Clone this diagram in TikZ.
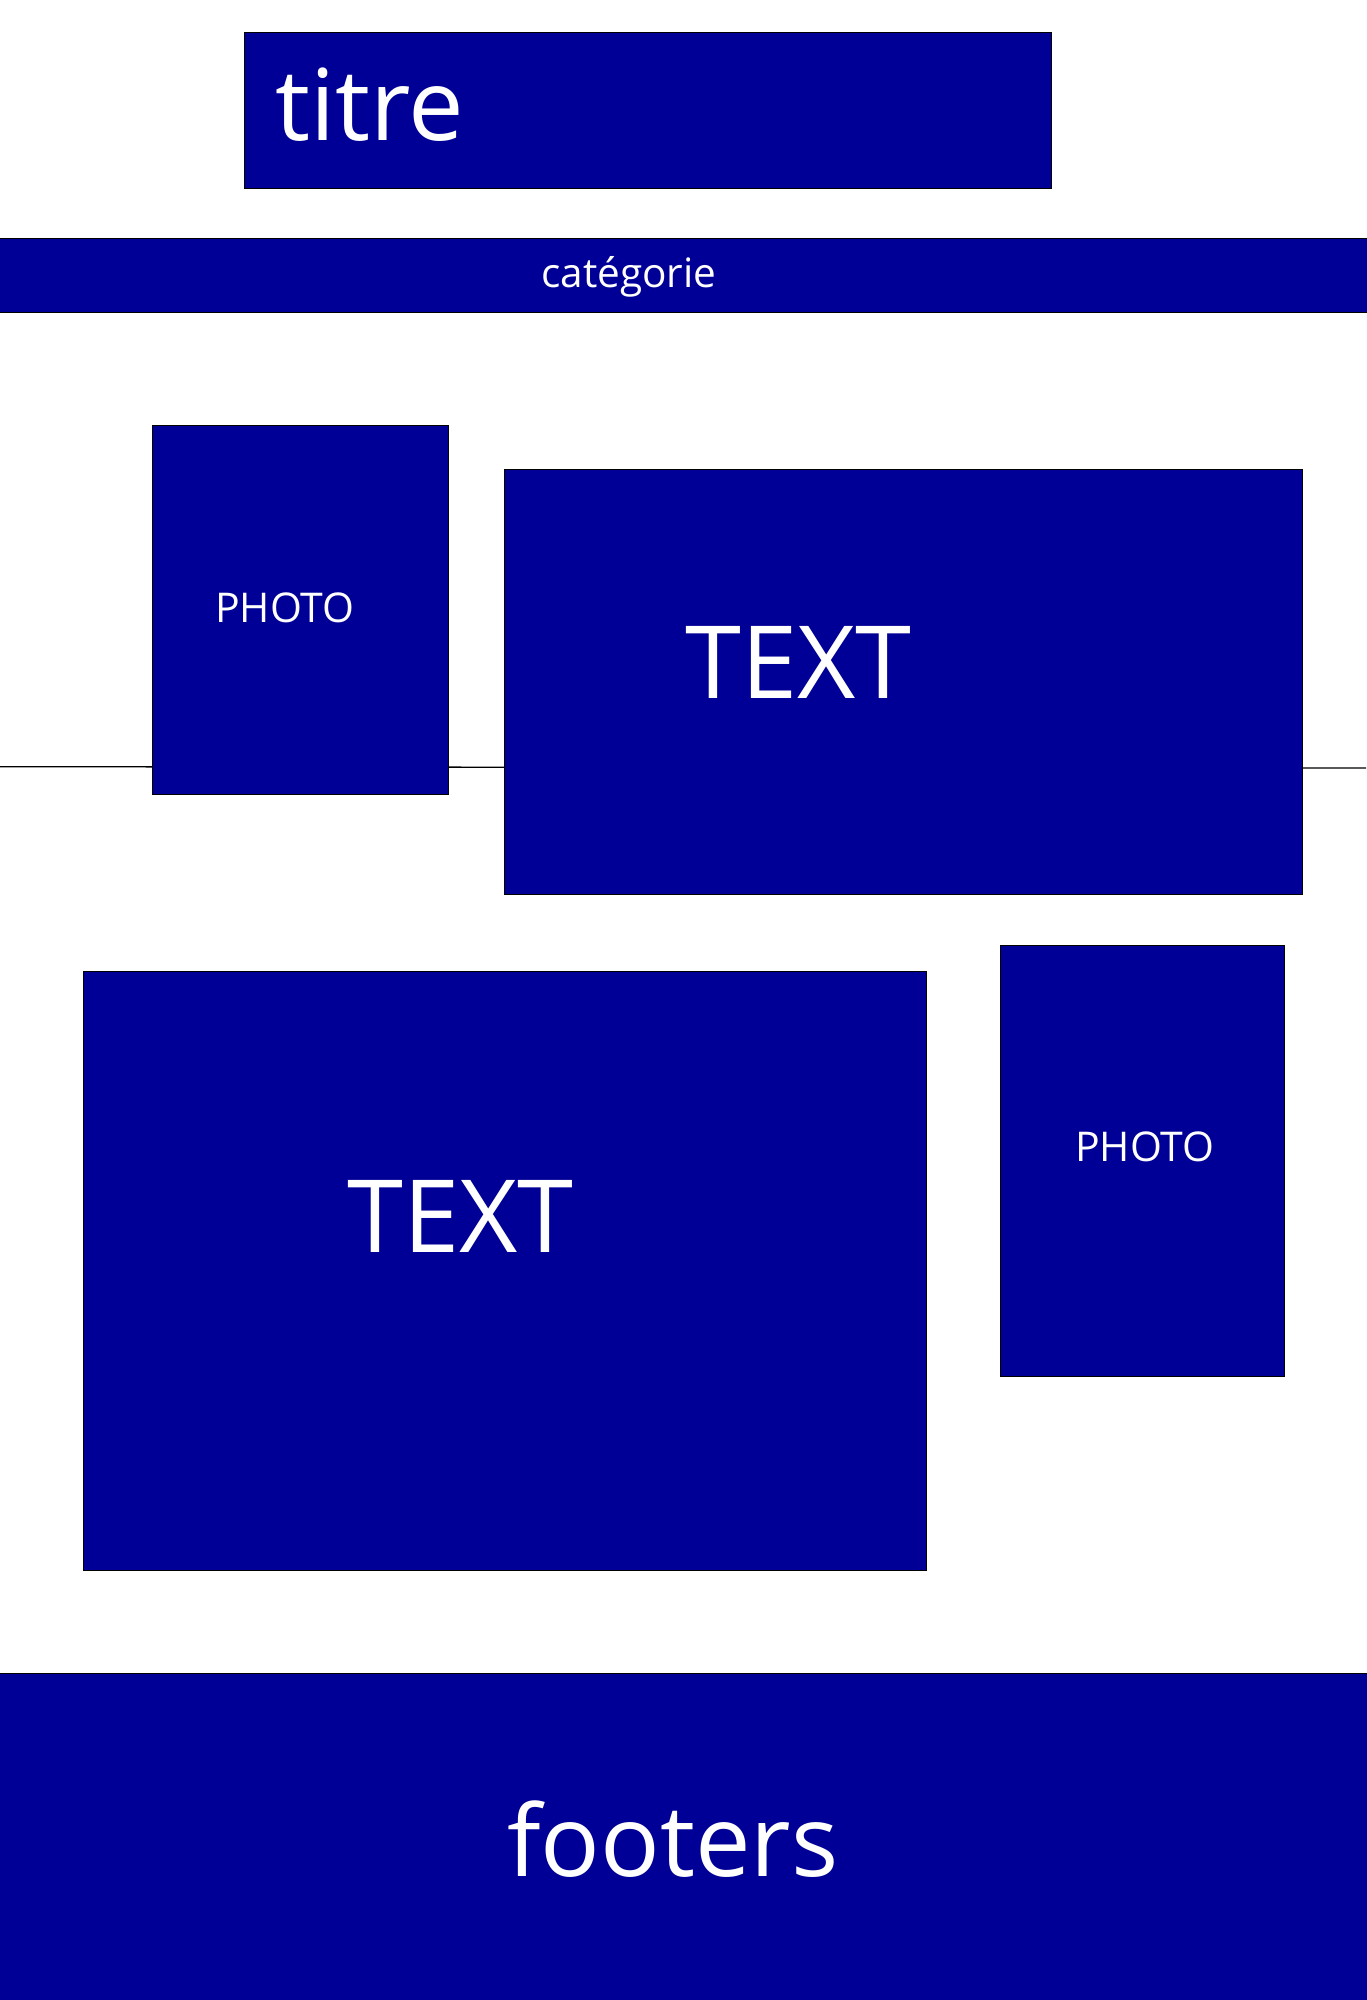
\documentclass[tikz,border=0pt]{standalone}
\usepackage{fontspec}
\setmainfont{Open Sans}
\definecolor{boxblue}{RGB}{0,0,150}
\begin{document}
\begin{tikzpicture}[x=1pt,y=-1pt,
  blockbox/.style={draw=black, line width=1pt, fill=boxblue, inner sep=0pt, anchor=north west},
  label/.style={text=white, inner sep=0pt, anchor=base west}]
\useasboundingbox[fill=white] (0,0) rectangle (1366,2000);
% horizontal line behind the boxes
\coordinate (lineL) at (0,766.7);
\coordinate (lineR) at (1366,768);
\draw[line width=1.3pt] (lineL) -- (lineR);
% boxes
\node[blockbox, minimum width=807pt, minimum height=155.5pt] (titre) at (244,32.3) {};
\node[blockbox, minimum width=1368pt, minimum height=73.4pt] (cat) at (-1,238.3) {};
\node[blockbox, minimum width=296pt, minimum height=368.7pt] (photo1) at (152.3,425.3) {};
\node[blockbox, minimum width=798pt, minimum height=424.7pt] (text1) at (504.3,469.3) {};
\node[blockbox, minimum width=842.7pt, minimum height=598.7pt] (text2) at (83.3,971.3) {};
\node[blockbox, minimum width=284pt, minimum height=431pt] (photo2) at (1000.3,945) {};
\node[blockbox, minimum width=1368pt, minimum height=330pt] (footer) at (-1,1673) {};
% texts
\node[label, font=\fontsize{99}{110}\selectfont] (titreT) at (275,140) {titre};
\node[label, font=\fontsize{40.5}{46}\selectfont] (catT) at (541,287.5) {catégorie};
\node[label, font=\fontsize{41}{50}\selectfont] (photo1T) at (215,622) {PHOTO};
\node[label, font=\fontsize{101}{110}\selectfont] (text1T) at (685,698) {TEXT};
\node[label, font=\fontsize{101}{110}\selectfont] (text2T) at (347,1252) {TEXT};
\node[label, font=\fontsize{41}{50}\selectfont] (photo2T) at (1075,1161) {PHOTO};
\node[label, font=\fontsize{99}{110}\selectfont] (footerT) at (507,1876) {footers};
\end{tikzpicture}
\end{document}
